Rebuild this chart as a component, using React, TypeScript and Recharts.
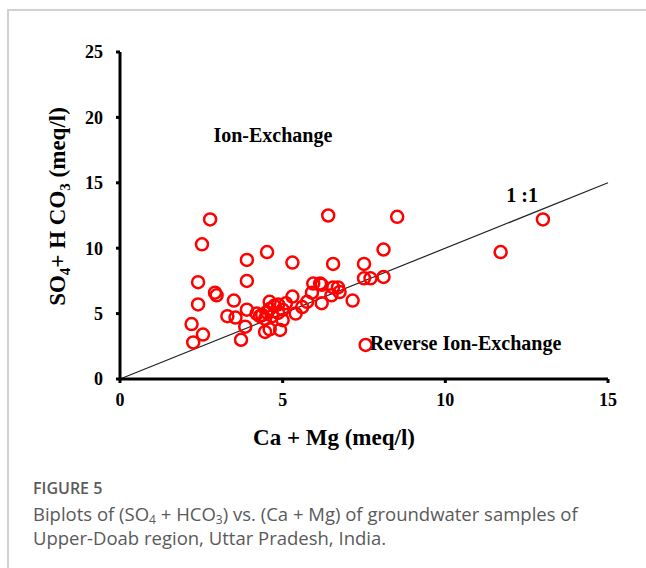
import { ScatterChart, Scatter, XAxis, YAxis, ReferenceLine, ReferenceDot, Label } from "recharts";

// Ca + Mg (meq/l)
const caMg = [
  2.77, 2.52, 2.4, 2.4, 2.2, 2.25, 2.55, 2.92, 2.97, 3.5, 3.3, 3.55, 3.9, 3.9, 3.9, 3.85, 3.72,
  4.52, 5.3, 6.4, 6.55, 8.52, 8.1, 7.5, 13.0, 11.7, 7.55, 7.15, 7.5, 7.7, 8.1, 6.2, 6.55, 6.7,
  6.5, 6.75, 5.9, 5.94, 6.15, 5.75, 6.2, 5.3, 5.4, 5.0, 4.92, 4.46, 4.6, 5.6, 4.37, 4.5, 4.6,
  4.74, 4.86, 4.46, 4.68, 4.86, 5.0, 4.6, 4.3, 5.1, 4.2,
];
// SO4 + HCO3 (meq/l)
const so4Hco3 = [
  12.2, 10.3, 7.4, 5.7, 4.2, 2.8, 3.4, 6.6, 6.4, 6.0, 4.8, 4.7, 9.1, 7.5, 5.3, 4.0, 3.0,
  9.7, 8.9, 12.5, 8.8, 12.4, 9.9, 8.8, 12.2, 9.7, 2.6, 6.0, 7.7, 7.7, 7.8, 7.2, 7.0, 7.0,
  6.4, 6.65, 6.6, 7.3, 7.3, 5.9, 5.8, 6.3, 5.0, 4.5, 3.75, 3.6, 3.8, 5.5, 4.9, 5.1, 5.35,
  5.6, 5.7, 4.6, 4.8, 5.05, 5.3, 5.9, 4.8, 5.8, 5.0,
];

const xTicks = [0, 5, 10, 15];
const yTicks = [0, 5, 10, 15, 20, 25];
const oneToOne = [
  { x: 0, y: 0 },
  { x: 15, y: 15 },
];

const notes = [
  { text: "Ion-Exchange", x: 4.7, y: 18.65 },
  { text: "1 :1", x: 12.36, y: 14.07 },
  { text: "Reverse Ion-Exchange", x: 10.62, y: 2.75 },
];

const data = caMg.map((x, i) => ({ x, y: so4Hco3[i] }));

const serif = "'Liberation Serif', 'Times New Roman', serif";
const sans = "'Open Sans', 'Noto Sans', sans-serif";
const tickStyle = { fill: "#000", fontSize: 18, fontWeight: "bold", fontFamily: serif };
const captionStyle = {
  position: "absolute" as const,
  left: 33,
  fontFamily: sans,
  fontSize: 18.5,
  lineHeight: "24px",
  color: "#5a5a5a",
  whiteSpace: "nowrap" as const,
};
const subStyle = { fontSize: 12, verticalAlign: "-3px", lineHeight: 0 };

const OpenCircle = (props: any) => (
  <circle cx={props.cx} cy={props.cy} r={6} fill="none" stroke="#ff0000" strokeWidth={2.5} />
);

const App = () => {
  return (
    <div style={{ position: "absolute", left: 0, top: 0, width: 646, height: 568, background: "#fff", overflow: "hidden" }}>
      <div
        style={{
          position: "absolute",
          left: 7,
          top: 9,
          width: 645,
          height: 565,
          borderTop: "2px solid #d2d2d2",
          borderLeft: "2px solid #d2d2d2",
        }}
      />
      <div style={{ position: "absolute", left: 0, top: 0 }}>
        <ScatterChart width={646} height={460} margin={{ top: 52, right: 38, bottom: 20, left: 60 }}>
          <XAxis
            type="number"
            dataKey="x"
            domain={[0, 15]}
            ticks={xTicks}
            height={61}
            tick={tickStyle}
            tickSize={4}
            tickMargin={10}
            axisLine={{ stroke: "#000", strokeWidth: 3 }}
            tickLine={{ stroke: "#000", strokeWidth: 3 }}
          >
            <Label
              content={({ viewBox }: any) => (
                <text
                  x={viewBox.x + 214}
                  y={viewBox.y + 66}
                  textAnchor="middle"
                  fill="#000"
                  fontSize={23}
                  fontWeight="bold"
                  fontFamily={serif}
                >
                  Ca + Mg (meq/l)
                </text>
              )}
            />
          </XAxis>
          <YAxis
            type="number"
            dataKey="y"
            domain={[0, 25]}
            ticks={yTicks}
            width={60}
            tick={tickStyle}
            tickSize={4}
            tickMargin={13}
            axisLine={{ stroke: "#000", strokeWidth: 3 }}
            tickLine={{ stroke: "#000", strokeWidth: 3 }}
          >
            <Label
              content={({ viewBox }: any) => {
                const cx = viewBox.x + 5;
                const cy = viewBox.y + viewBox.height / 2 - 9;
                return (
                  <text
                    x={cx}
                    y={cy}
                    transform={`rotate(-90, ${cx}, ${cy})`}
                    textAnchor="middle"
                    fill="#000"
                    fontSize={23}
                    fontWeight="bold"
                    fontFamily={serif}
                  >
                    SO<tspan fontSize={15} dy={5}>4</tspan>
                    <tspan dy={-5}>+ H CO</tspan>
                    <tspan fontSize={15} dy={5}>3</tspan>
                    <tspan dy={-5}> (meq/l)</tspan>
                  </text>
                );
              }}
            />
          </YAxis>
          <ReferenceLine segment={oneToOne} stroke="#222" strokeWidth={1.2} />
          <Scatter data={data} shape={OpenCircle} isAnimationActive={false} />
          {notes.map((n) => (
            <ReferenceDot
              key={n.text}
              x={n.x}
              y={n.y}
              r={1}
              fill="none"
              stroke="none"
              label={{
                value: n.text,
                position: "center",
                fill: "#000",
                fontSize: 20,
                fontWeight: "bold",
                fontFamily: serif,
              }}
            />
          ))}
        </ScatterChart>
      </div>
      <div style={{ ...captionStyle, top: 476, fontSize: 16, fontWeight: 600 }}>FIGURE 5</div>
      <div style={{ ...captionStyle, top: 502 }}>
        Biplots of (SO<sub style={subStyle}>4</sub> + HCO<sub style={subStyle}>3</sub>) vs. (Ca + Mg) of groundwater
        samples of
      </div>
      <div style={{ ...captionStyle, top: 526 }}>Upper-Doab region, Uttar Pradesh, India.</div>
    </div>
  );
};

export default App;
